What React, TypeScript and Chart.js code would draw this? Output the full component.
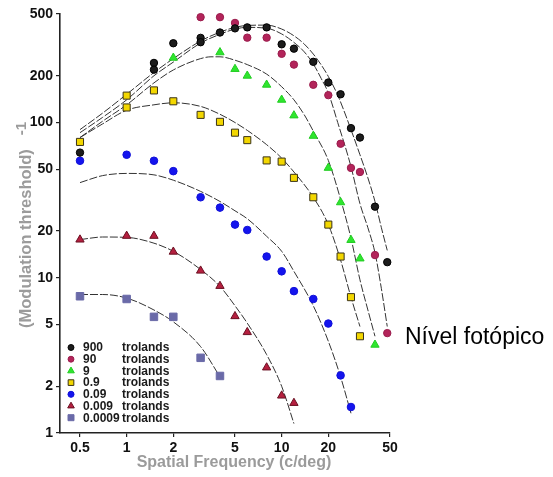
import React, { useEffect, useRef } from 'react';
import { Chart, registerables } from 'chart.js';

Chart.register(...registerables);

const FONT = '"Liberation Sans", Arial, Helvetica, sans-serif';

const X_TICKS = [0.5, 1, 2, 5, 10, 20, 50];
const Y_TICKS = [1, 2, 5, 10, 20, 50, 100, 200, 500];
const X_TITLE = 'Spatial Frequency (c/deg)';
const Y_TITLE = '(Modulation threshold)';
const Y_TITLE_SUP = '-1';
const SIDE_NOTE = 'Nível fotópico';
const LEVELS = ['900', '90', '9', '0.9', '0.09', '0.009', '0.0009'];
const UNIT = 'trolands';

// measured points (spatial frequency, sensitivity)
const pts900X = [0.5, 1.5, 1.5, 2, 3, 3, 4, 5, 6, 8, 10, 12, 16, 20, 24, 28, 32, 40, 48];
const pts900Y = [64, 242, 219, 324, 351, 329, 380, 404, 410, 410, 319, 299, 246, 181, 152, 92, 80, 28.7, 12.6];

const pts90X = [3, 4, 5, 6, 8, 10, 12, 16, 20, 24, 28, 32, 40, 48];
const pts90Y = [477, 477, 438, 352, 352, 277, 236, 175, 150, 73, 51, 48, 14, 4.4];

const pts9X = [2, 4, 5, 6, 8, 10, 12, 16, 20, 24, 28, 32, 40];
const pts9Y = [261, 283, 221, 200, 175, 140, 111, 82, 51, 30.6, 17.5, 13.3, 3.7];

const pts0_9X = [0.5, 1, 1, 1.5, 2, 3, 4, 5, 6, 8, 10, 12, 16, 20, 24, 28, 32];
const pts0_9Y = [75, 149, 125, 161, 137, 112, 101, 86, 77, 57, 56, 44, 33, 22, 13.7, 7.5, 4.2];

const pts0_09X = [0.5, 1, 1.5, 2, 3, 4, 5, 6, 8, 10, 12, 16, 20, 24, 28];
const pts0_09Y = [56.7, 62, 56.7, 48.6, 33, 28.3, 22, 20.3, 13.7, 11, 8.2, 7.3, 5.07, 2.35, 1.47];

const pts0_009X = [0.5, 1, 1.5, 2, 3, 4, 5, 6, 8, 10, 12];
const pts0_009Y = [17.6, 18.6, 18.6, 14.7, 11.1, 8.85, 5.65, 4.46, 2.64, 1.74, 1.56];

const pts0_0009X = [0.5, 1, 1.5, 2, 3, 4];
const pts0_0009Y = [7.6, 7.3, 5.6, 5.6, 3.05, 2.33];

// fitted curves
const fit900X = [0.5, 0.7, 1, 1.5, 2, 3, 4, 5, 6, 8, 10, 12, 14, 16, 18, 20, 23, 25, 28, 32, 36, 40, 44, 48];
const fit900Y = [90, 115, 152, 210, 258, 335, 382, 410, 422, 424, 400, 362, 320, 276, 235, 198, 150, 122, 90, 62, 44, 31, 21, 15];

const fit90X = [0.5, 0.7, 1, 1.5, 2, 3, 4, 5, 6, 8, 10, 12, 14, 16, 18, 20, 23, 28, 32, 36, 40, 44, 48];
const fit90Y = [86, 108, 140, 200, 245, 325, 370, 400, 410, 405, 372, 328, 285, 238, 192, 155, 100, 52, 30, 21, 14.5, 8.5, 4.85];

const fit9X = [0.5, 0.7, 1, 1.5, 2, 3, 3.5, 4, 5, 6, 8, 10, 12, 14, 16, 20, 24, 28, 32, 36, 40];
const fit9Y = [80, 102, 130, 180, 218, 258, 265, 265, 252, 236, 205, 170, 140, 112, 88, 57, 32, 18, 9.7, 6.2, 4.2];

const fit0_9X = [0.5, 0.7, 1, 1.5, 2, 3, 4, 5, 6, 8, 10, 12, 16, 20, 24, 28, 32];
const fit0_9Y = [80, 98, 120, 130, 134, 127, 113, 100, 89, 72, 59, 48, 33, 22, 13, 7.5, 4.85];

const fit0_09X = [0.5, 0.7, 1, 1.5, 2, 3, 4, 5, 6, 8, 10, 12, 16, 20, 24, 28];
const fit0_09Y = [41, 45.5, 47, 46, 42.5, 36, 31, 27, 24, 18.5, 14.8, 11, 6.6, 3.9, 2.3, 1.34];

const fit0_009X = [0.5, 0.7, 1, 1.5, 2, 3, 4, 5, 6, 8, 10, 12];
const fit0_009Y = [17.6, 18.3, 18.2, 16.7, 14.8, 11.3, 8.8, 6.6, 5.1, 3.2, 2.0, 1.15];

const fit0_0009X = [0.5, 0.7, 1, 1.5, 2, 3, 4];
const fit0_0009Y = [7.8, 7.8, 7.4, 6.2, 5.2, 3.6, 2.3];

type Style = { shape: 'circle' | 'triangle' | 'rect'; fill: string; stroke: string; r: number };

const STYLES: Style[] = [
  { shape: 'circle', fill: '#1c1c1c', stroke: '#000000', r: 3.7 },
  { shape: 'circle', fill: '#b3245a', stroke: '#9a1c4c', r: 3.7 },
  { shape: 'triangle', fill: '#2ee62e', stroke: '#22cc22', r: 4.8 },
  { shape: 'rect', fill: '#f3d700', stroke: '#3a3318', r: 5.0 },
  { shape: 'circle', fill: '#1414ee', stroke: '#1010d8', r: 3.8 },
  { shape: 'triangle', fill: '#b51f3f', stroke: '#6a1022', r: 4.8 },
  { shape: 'rect', fill: '#6a6aa8', stroke: '#6a6aa8', r: 5.3 },
];

const POINTS: [number[], number[]][] = [
  [pts900X, pts900Y],
  [pts90X, pts90Y],
  [pts9X, pts9Y],
  [pts0_9X, pts0_9Y],
  [pts0_09X, pts0_09Y],
  [pts0_009X, pts0_009Y],
  [pts0_0009X, pts0_0009Y],
];

const FITS: [number[], number[]][] = [
  [fit900X, fit900Y],
  [fit90X, fit90Y],
  [fit9X, fit9Y],
  [fit0_9X, fit0_9Y],
  [fit0_09X, fit0_09Y],
  [fit0_009X, fit0_009Y],
  [fit0_0009X, fit0_0009Y],
];

const toXY = (xs: number[], ys: number[]) => xs.map((x, i) => ({ x, y: ys[i] }));

function drawMarker(ctx: CanvasRenderingContext2D, s: Style, x: number, y: number, scale: number) {
  const r = s.r * scale;
  ctx.beginPath();
  if (s.shape === 'circle') {
    ctx.arc(x, y, r, 0, Math.PI * 2);
  } else if (s.shape === 'rect') {
    const h = r * Math.SQRT1_2;
    ctx.rect(x - h, y - h, 2 * h, 2 * h);
  } else {
    for (let k = 0; k < 3; k++) {
      const a = (k * 2 * Math.PI) / 3;
      const px = x + Math.sin(a) * r;
      const py = y - Math.cos(a) * r;
      if (k === 0) ctx.moveTo(px, py);
      else ctx.lineTo(px, py);
    }
    ctx.closePath();
  }
  ctx.fillStyle = s.fill;
  ctx.fill();
  ctx.lineWidth = 1;
  ctx.strokeStyle = s.stroke;
  ctx.stroke();
}

const overlayPlugin = {
  id: 'overlay',
  afterDraw(chart: any) {
    const ctx: CanvasRenderingContext2D = chart.ctx;
    ctx.save();
    // x title
    ctx.font = `bold 16px ${FONT}`;
    ctx.fillStyle = '#9b9b9b';
    ctx.textAlign = 'center';
    ctx.textBaseline = 'middle';
    ctx.fillText(X_TITLE, 234, 463);

    // y title, rotated
    ctx.save();
    ctx.translate(26, 0);
    ctx.rotate(-Math.PI / 2);
    ctx.textAlign = 'left';
    ctx.textBaseline = 'middle';
    ctx.font = `bold 16.5px ${FONT}`;
    const start = -328;
    ctx.fillText(Y_TITLE, start, 0);
    const w = ctx.measureText(Y_TITLE).width;
    ctx.font = `bold 15px ${FONT}`;
    ctx.fillText(Y_TITLE_SUP, start + w + 14, -4);
    ctx.restore();

    // legend
    ctx.font = `bold 12px ${FONT}`;
    ctx.textAlign = 'left';
    ctx.textBaseline = 'middle';
    LEVELS.forEach((lab, i) => {
      const y = 347.5 + i * 11.7;
      drawMarker(ctx, STYLES[i], 71, y, 0.8);
      ctx.fillStyle = '#1a1a1a';
      ctx.fillText(lab, 83, y + 0.5);
      ctx.fillText(UNIT, 122, y + 0.5);
    });

    // side note
    ctx.font = `23px ${FONT}`;
    ctx.fillStyle = '#000';
    ctx.textAlign = 'left';
    ctx.textBaseline = 'middle';
    ctx.fillText(SIDE_NOTE, 405, 338);
    ctx.restore();
  },
};

export default function App() {
  const ref = useRef<HTMLCanvasElement | null>(null);

  useEffect(() => {
    if (!ref.current) return;
    const fitSets = FITS.map(([xs, ys]) => ({
      type: 'line' as const,
      data: toXY(xs, ys),
      showLine: true,
      borderColor: '#333333',
      borderWidth: 1,
      borderDash: [8, 2],
      pointRadius: 0,
      fill: false,
      cubicInterpolationMode: 'monotone' as const,
      order: 2,
      clip: false as any,
    }));
    const pointSets = POINTS.map(([xs, ys], i) => ({
      type: 'scatter' as const,
      data: toXY(xs, ys),
      showLine: false,
      pointStyle: STYLES[i].shape,
      pointRadius: STYLES[i].r,
      pointBackgroundColor: STYLES[i].fill,
      pointBorderColor: STYLES[i].stroke,
      pointBorderWidth: 1,
      order: 1,
      clip: false as any,
    }));

    const chart = new Chart(ref.current, {
      type: 'scatter',
      data: { datasets: [...fitSets, ...pointSets] as any },
      options: {
        animation: false,
        responsive: false,
        devicePixelRatio: 1,
        layout: { padding: { left: 0, right: 163, top: 14, bottom: 0 } },
        plugins: { legend: { display: false }, tooltip: { enabled: false } },
        scales: {
          x: {
            type: 'logarithmic',
            min: 0.3715,
            max: 50,
            afterBuildTicks: (scale: any) => {
              scale.ticks = X_TICKS.map((v) => ({ value: v }));
            },
            afterFit: (scale: any) => {
              scale.height = 44;
            },
            ticks: {
              autoSkip: false,
              maxRotation: 0,
              padding: 3,
              color: '#111',
              font: { family: FONT, size: 14, weight: 'bold' },
              callback: (v: any) => String(v),
            },
            grid: { display: true, drawOnChartArea: false, drawTicks: true, tickLength: 4, color: '#222', lineWidth: 1.2 },
            border: { display: true, color: '#222', width: 1.6 },
          },
          y: {
            type: 'logarithmic',
            min: 1,
            max: 500,
            afterBuildTicks: (scale: any) => {
              scale.ticks = Y_TICKS.map((v) => ({ value: v }));
            },
            afterFit: (scale: any) => {
              scale.width = 60;
            },
            ticks: {
              autoSkip: false,
              padding: 3,
              color: '#111',
              font: { family: FONT, size: 14, weight: 'bold' },
              callback: (v: any) => String(v),
            },
            grid: { display: true, drawOnChartArea: false, drawTicks: true, tickLength: 4, color: '#222', lineWidth: 1.2 },
            border: { display: true, color: '#222', width: 1.6 },
          },
        },
      } as any,
      plugins: [overlayPlugin],
    });
    return () => chart.destroy();
  }, []);

  return (
    <div style={{ position: 'absolute', left: 0, top: 0, width: 553, height: 477, background: '#fff' }}>
      <canvas ref={ref} width={553} height={477} style={{ width: 553, height: 477, display: 'block' }} />
    </div>
  );
}
